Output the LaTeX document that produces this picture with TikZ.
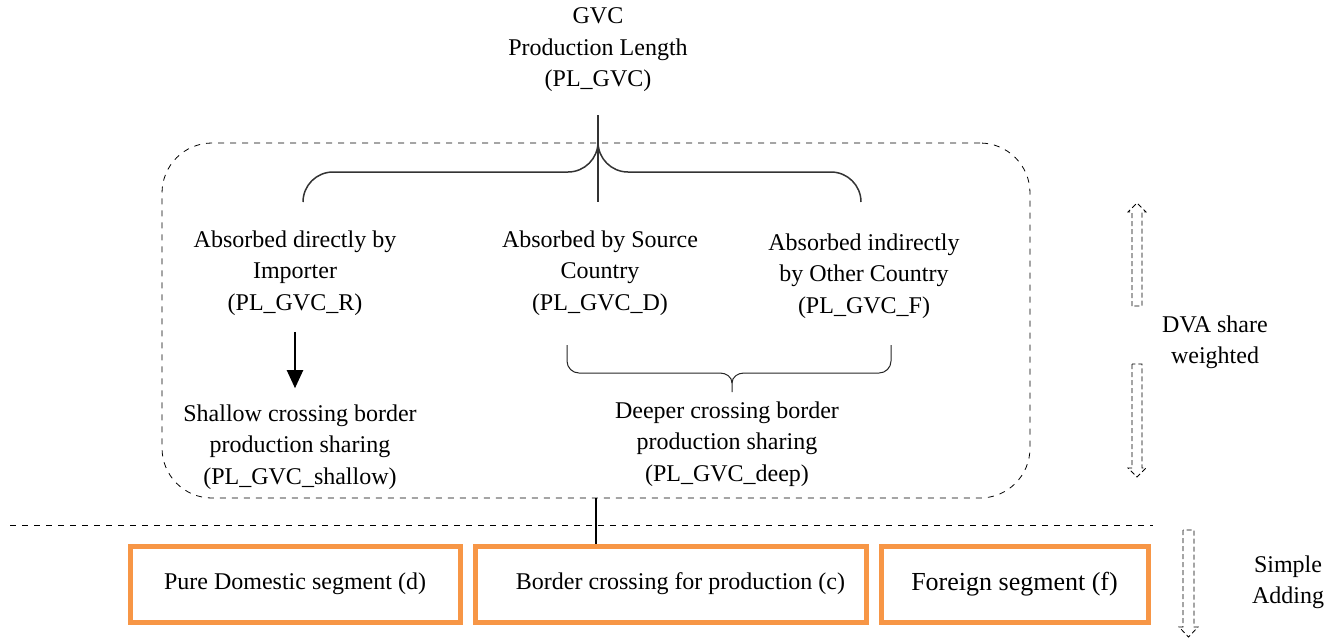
\documentclass[tikz,border=0pt]{standalone}
\usepackage{fontspec}
\setmainfont{Liberation Serif}
\usepackage{tikz}
\usetikzlibrary{arrows.meta}
\definecolor{segorange}{RGB}{247,150,70}

\begin{document}
\begin{tikzpicture}[x=0.5pt,y=-0.5pt,font=\fontsize{12}{15.75}\selectfont,
    lbl/.style={align=center,inner sep=0pt},
    seg/.style={draw=segorange,line width=2.5pt,minimum height=38pt,inner sep=0pt},
    brace/.style={draw=black!80,line width=0.75pt},
    hollow/.style={draw,line width=0.4pt,dash pattern=on 2.5pt off 1.5pt}]
      \useasboundingbox (0,0) rectangle (1333,639);
      % top label and split
      \node[lbl] (title) at (598,50) {GVC\\Production Length\\(PL\_GVC)};
      \coordinate (ltop) at (598,115);
      \coordinate (lbot) at (598,202);
      \node[draw,dashed,rounded corners=25pt,line width=0.4pt,minimum width=434pt,minimum height=177.5pt] (frame) at (596,320.5) {};
      \draw[brace] (ltop) -- (lbot);
      \draw[brace] (303,202) arc[start angle=180,end angle=270,radius=30] -- (568,172) arc[start angle=90,end angle=0,radius=30];
      \draw[brace] (861,202) arc[start angle=0,end angle=-90,radius=30] -- (628,172) arc[start angle=90,end angle=180,radius=30];
      % three destinations
      \node[lbl] (imp) at (295,273) {Absorbed directly by\\Importer\\(PL\_GVC\_R)};
      \node[lbl] (src) at (600,273) {Absorbed by Source\\Country\\(PL\_GVC\_D)};
      \node[lbl] (oth) at (864,276) {Absorbed indirectly\\by Other Country\\(PL\_GVC\_F)};
      \node[lbl] (shallow) at (300,447) {Shallow crossing border\\production sharing\\(PL\_GVC\_shallow)};
      \node[lbl] (deep) at (727,444) {Deeper crossing border\\production sharing\\(PL\_GVC\_deep)};
      \draw[line width=1pt,-{Triangle[width=8pt,length=9pt]},shorten <=8pt,shorten >=8pt] (imp.south) -- (imp.south |- shallow.north);
      \draw[draw=black!85,line width=0.5pt] (567,345) -- (567,361) arc[start angle=180,end angle=90,radius=12] -- (720,373)
        to[out=0,in=90] (732,383) -- (732,392);
      \draw[draw=black!85,line width=0.5pt] (891,345) -- (891,361) arc[start angle=0,end angle=90,radius=12] -- (744,373)
        to[out=180,in=90] (732,383);
      % segments
      \draw[dashed,line width=0.4pt] (10,525) -- (1153,525);
      \node[seg,minimum width=165pt] (d) at (295,584) {Pure Domestic segment (d)};
      \node[seg,minimum width=195.5pt] (c) at (670.5,584) {\hspace{10pt}Border crossing for production (c)};
      \node[seg,minimum width=133.5pt,font=\fontsize{13}{15.75}\selectfont] (f) at (1014.5,584) {Foreign segment (f)};
      \draw[line width=1pt] (frame.south) -- (frame.south |- c.north);
      % right hand notes
      \draw[hollow] (1132,306) -- (1132,212) -- (1128,212) -- (1137,203) -- (1146,212) -- (1142,212) -- (1142,306) -- cycle;
      \draw[hollow] (1132,364) -- (1132,468) -- (1128,468) -- (1137,477) -- (1146,468) -- (1142,468) -- (1142,364) -- cycle;
      \draw[hollow] (1183,530) -- (1183,627) -- (1179,627) -- (1188.5,637) -- (1198,627) -- (1194,627) -- (1194,530) -- cycle;
      \node[lbl] (dva) at (1215,342) {DVA share\\weighted};
      \node[lbl] (add) at (1288,582) {Simple\\Adding};
    \end{tikzpicture}
\end{document}
